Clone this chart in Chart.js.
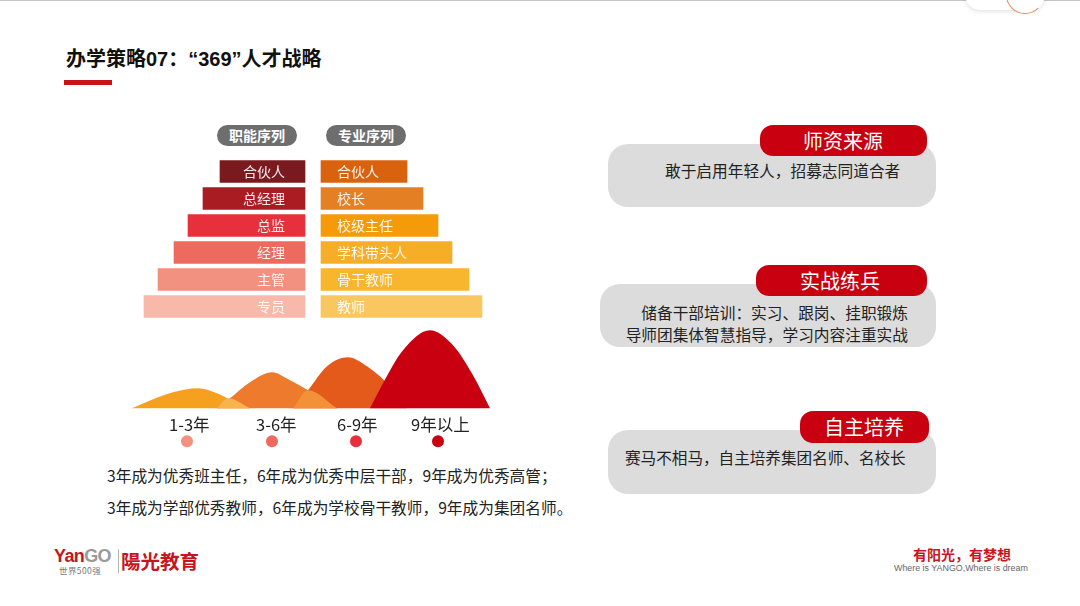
<!DOCTYPE html>
<html lang="zh-CN">
<head>
<meta charset="utf-8">
<title>办学策略07</title>
<script src="https://cdn.jsdelivr.net/npm/chart.js@4"></script>
<style>
html, body { margin: 0; padding: 0; background: #fff; }
body { width: 1080px; height: 606px; position: relative; overflow: hidden; font-family: "Noto Sans CJK SC", "Noto Sans", sans-serif; color: #222; }
canvas { position: absolute; }
.t { position: absolute; white-space: nowrap; line-height: 1; }
.box { position: absolute; }
.card { background: #dcdcdc; border-radius: 20px; }
.pill { background: #c8000f; border-radius: 13px; }
.tag { background: #6e6e6e; border-radius: 11px; color: #fff; font-size: 14px; font-weight: 700; text-align: center; line-height: 21px; }
</style>
</head>
<body>
<div class="box" style="left:0;top:0;width:1080px;height:1px;background:#c4c4c4"></div>
<div class="box" style="left:965px;top:-20px;width:80px;height:30px;background:#fff;border-radius:15px;box-shadow:0 1px 5px rgba(0,0,0,.14)"></div>
<div class="box" style="left:1006px;top:-24px;width:36px;height:36px;background:#fff;border-radius:50%;border:1px solid transparent;border-bottom-color:#e0915a;border-left-color:#e0915a"></div>

<div class="t" style="left:66px;top:49px;font-size:20px;font-weight:700;color:#111;font-family:'Liberation Sans','Noto Sans CJK SC',sans-serif">办学策略07：“369”人才战略</div>
<div class="box" style="left:64px;top:80px;width:48px;height:5px;background:#c8101f"></div>

<div class="box tag" style="left:217px;top:125px;width:80px;height:21px">职能序列</div>
<div class="box tag" style="left:326px;top:125px;width:80px;height:21px">专业序列</div>

<canvas id="chartPyramid" width="370" height="162" style="left:130px;top:158px"></canvas>
<canvas id="chartHumps" width="380" height="135" style="left:120px;top:320px"></canvas>

<div class="t" style="left:169px;top:416px;font-size:16.5px;color:#222">1-3年</div>
<div class="t" style="left:256px;top:416px;font-size:16.5px;color:#222">3-6年</div>
<div class="t" style="left:337px;top:416px;font-size:16.5px;color:#222">6-9年</div>
<div class="t" style="left:411px;top:416px;font-size:16.5px;color:#222">9年以上</div>

<div class="t" style="left:107px;top:468px;font-size:15.7px">3年成为优秀班主任，6年成为优秀中层干部，9年成为优秀高管；</div>
<div class="t" style="left:107px;top:500px;font-size:15.7px">3年成为学部优秀教师，6年成为学校骨干教师，9年成为集团名师。</div>

<div class="box card" style="left:608px;top:144px;width:328px;height:63px"></div>
<div class="box pill" style="left:760px;top:125px;width:167px;height:31px"></div>
<div class="t" style="left:803px;top:131px;font-size:20px;color:#fff">师资来源</div>
<div class="t" style="left:665px;top:163px;font-size:15.7px">敢于启用年轻人，招募志同道合者</div>

<div class="box card" style="left:600px;top:284px;width:336px;height:63px"></div>
<div class="box pill" style="left:756px;top:265px;width:171px;height:31px"></div>
<div class="t" style="left:800px;top:271px;font-size:20px;color:#fff">实战练兵</div>
<div class="t" style="right:172px;top:305px;font-size:15.7px">储备干部培训：实习、跟岗、挂职锻炼</div>
<div class="t" style="right:172px;top:327px;font-size:15.7px">导师团集体智慧指导，学习内容注重实战</div>

<div class="box card" style="left:608px;top:430px;width:328px;height:64px"></div>
<div class="box pill" style="left:800px;top:411px;width:129px;height:32px"></div>
<div class="t" style="left:824px;top:417px;font-size:20px;color:#fff">自主培养</div>
<div class="t" style="left:625px;top:450px;font-size:15.6px">赛马不相马，自主培养集团名师、名校长</div>

<div class="t" style="left:54px;top:547px;font-size:18px;font-weight:700;color:#c8141e;font-family:'Liberation Sans';letter-spacing:-.6px">Yan<span style="color:#9a9a9a">GO</span></div>
<div class="t" style="left:59px;top:566px;font-size:8.5px;color:#777;letter-spacing:.4px">世界500强</div>
<div class="box" style="left:118px;top:549px;width:1px;height:24px;background:#b5b5b5"></div>
<div class="t" style="left:121px;top:551px;font-size:19.5px;font-weight:700;color:#c8141e">陽光教育</div>
<div class="t" style="left:913px;top:547px;font-size:14px;font-weight:700;color:#c8141e">有阳光，有梦想</div>
<div class="t" style="left:894px;top:564px;font-size:8.9px;color:#666;font-family:'Liberation Sans'">Where is YANGO,Where is dream</div>

<script>
// Chart.js global setup
Chart.defaults.font.family = "'Noto Sans CJK SC', sans-serif";
Chart.defaults.animation = false;

// Pyramid: job titles and bar lengths
var functionLabels = ['合伙人', '总经理', '总监', '经理', '主管', '专员'];
var functionValues = [85, 102, 117, 131, 147, 161];
var professionLabels = ['合伙人', '校长', '校级主任', '学科带头人', '骨干教师', '教师'];
var professionValues = [86, 102, 117, 131, 148, 161];

// Humps: distance along the baseline and height, one pair per stage
var stage1X = [12, 33, 53, 78, 97, 113, 130];
var stage1Y = [0, 9, 16, 20, 15, 7, 0];
var stage2X = [97, 110, 130, 152, 170, 188, 217];
var stage2Y = [0, 10, 26, 36, 28, 18, 0];
var stage3X = [173, 188, 207, 228, 247, 265, 287];
var stage3Y = [0, 18, 42, 51, 42, 27, 0];
var stage4X = [250, 263, 283, 310, 333, 353, 370];
var stage4Y = [0, 25, 58, 78, 63, 33, 0];
var overlap12X = [97, 108, 130];
var overlap12Y = [0, 10, 0];
var overlap23X = [173, 188, 217];
var overlap23Y = [0, 18, 0];

// Dots under the humps
var dotX = [67, 152, 236, 318];
var dotY = [-33, -33, -33, -33];

var GAP = 8;
var functionColors = ['#7a1a1f', '#a81c22', '#e8303c', '#ee6a5e', '#f2917f', '#f8b8aa'];
var professionColors = ['#d9620f', '#e47f24', '#f59b0a', '#f6ae28', '#f8b52e', '#fac65f'];
var dotColors = ['#f2917f', '#ee6a5e', '#e8303c', '#c8000f'];

function toPoints(xs, ys) {
    return xs.map(function(x, i) { return { x: x, y: ys[i] }; });
}

function hump(xs, ys, color) {
    return {
        data: toPoints(xs, ys),
        borderColor: color,
        backgroundColor: color,
        borderWidth: 0,
        pointRadius: 0,
        fill: 'origin',
        cubicInterpolationMode: 'monotone'
    };
}

// Writes the job titles inside the bars
var barText = {
    id: 'barText',
    afterDatasetsDraw: function(chart) {
        var ctx = chart.ctx;
        var xScale = chart.scales.x;
        ctx.save();
        ctx.font = "14px 'Noto Sans CJK SC', sans-serif";
        ctx.textBaseline = 'middle';
        ctx.fillStyle = 'rgba(255, 255, 255, 0.92)';
        chart.getDatasetMeta(0).data.forEach(function(bar, i) {
            ctx.textAlign = 'right';
            ctx.fillText(functionLabels[i], xScale.getPixelForValue(-GAP - 20), bar.y);
        });
        chart.getDatasetMeta(1).data.forEach(function(bar, i) {
            ctx.textAlign = 'left';
            ctx.fillText(professionLabels[i], xScale.getPixelForValue(GAP + 16), bar.y);
        });
        ctx.restore();
    }
};

document.addEventListener('DOMContentLoaded', function() {

    // Two-sided pyramid
    new Chart(document.getElementById('chartPyramid').getContext('2d'), {
        type: 'bar',
        plugins: [barText],
        data: {
            labels: functionLabels,
            datasets: [
                {
                    data: functionValues.map(function(v) { return [-GAP - v, -GAP]; }),
                    backgroundColor: functionColors,
                    barThickness: 22,
                    grouped: false
                },
                {
                    data: professionValues.map(function(v) { return [GAP, GAP + v]; }),
                    backgroundColor: professionColors,
                    barThickness: 22,
                    grouped: false
                }
            ]
        },
        options: {
            responsive: false,
            indexAxis: 'y',
            plugins: { legend: { display: false }, tooltip: { enabled: false } },
            scales: {
                x: { display: false, min: -183, max: 187 },
                y: { display: false }
            }
        }
    });

    // Stage humps: the first dataset is painted last
    new Chart(document.getElementById('chartHumps').getContext('2d'), {
        type: 'line',
        data: {
            datasets: [
                {
                    type: 'scatter',
                    data: toPoints(dotX, dotY),
                    backgroundColor: dotColors,
                    pointRadius: 6,
                    borderWidth: 0
                },
                hump(stage4X, stage4Y, '#c8000f'),
                hump(overlap23X, overlap23Y, '#f29138'),
                hump(stage3X, stage3Y, '#e35a1b'),
                hump(overlap12X, overlap12Y, '#f7b44c'),
                hump(stage2X, stage2Y, '#ee7b2d'),
                hump(stage1X, stage1Y, '#f5a01f')
            ]
        },
        options: {
            responsive: false,
            layout: { autoPadding: false },
            plugins: { legend: { display: false }, tooltip: { enabled: false } },
            scales: {
                x: { type: 'linear', display: false, min: 0, max: 380 },
                y: { display: false, min: -46.7, max: 88.3 }
            }
        }
    });

});
</script>
</body>
</html>
